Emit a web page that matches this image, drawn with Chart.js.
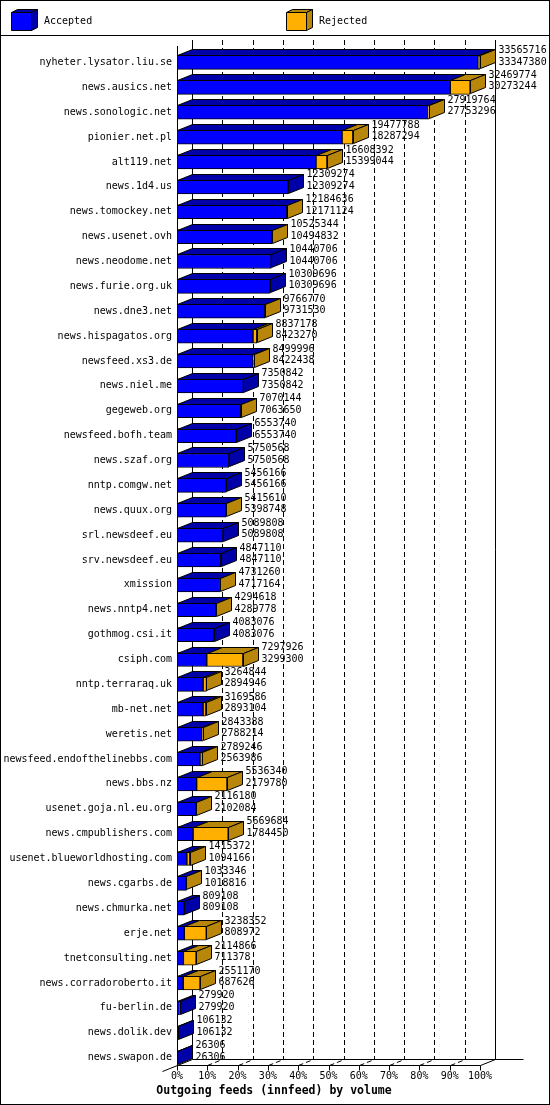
<!DOCTYPE html>
<html>
<head>
<meta charset="utf-8">
<script src="https://cdn.jsdelivr.net/npm/chart.js@4.4.1/dist/chart.umd.min.js"></script>
<style>
  html, body { margin: 0; padding: 0; background: #fff; }
  #wrap { width: 550px; height: 1105px; }
</style>
</head>
<body>
<div id="wrap"><canvas id="feeds" width="550" height="1105"></canvas></div>
<script>
// Outgoing feeds (innfeed) by volume

const hosts = [
  'nyheter.lysator.liu.se', 'news.ausics.net', 'news.sonologic.net', 'pionier.net.pl',
  'alt119.net', 'news.1d4.us', 'news.tomockey.net', 'news.usenet.ovh',
  'news.neodome.net', 'news.furie.org.uk', 'news.dne3.net', 'news.hispagatos.org',
  'newsfeed.xs3.de', 'news.niel.me', 'gegeweb.org', 'newsfeed.bofh.team',
  'news.szaf.org', 'nntp.comgw.net', 'news.quux.org', 'srl.newsdeef.eu',
  'srv.newsdeef.eu', 'xmission', 'news.nntp4.net', 'gothmog.csi.it',
  'csiph.com', 'nntp.terraraq.uk', 'mb-net.net', 'weretis.net',
  'newsfeed.endofthelinebbs.com', 'news.bbs.nz', 'usenet.goja.nl.eu.org', 'news.cmpublishers.com',
  'usenet.blueworldhosting.com', 'news.cgarbs.de', 'news.chmurka.net', 'erje.net',
  'tnetconsulting.net', 'news.corradoroberto.it', 'fu-berlin.de', 'news.dolik.dev',
  'news.swapon.de'
];

// offered volume (top number)
const totalVolume = [
  33565716, 32469774, 27919764, 19477788,
  16608392, 12309274, 12184636, 10525344,
  10440706, 10309696, 9766770, 8837178,
  8499996, 7350842, 7070144, 6553740,
  5750568, 5456166, 5415610, 5089808,
  4847110, 4731260, 4294618, 4083076,
  7297926, 3264844, 3169586, 2843388,
  2789246, 5536340, 2116180, 5669684,
  1415372, 1033346, 809108, 3238352,
  2114866, 2551170, 279920, 106132,
  26306
];

// accepted volume (bottom number)
const acceptedVolume = [
  33347380, 30273244, 27753296, 18287294,
  15399044, 12309274, 12171124, 10494832,
  10440706, 10309696, 9731530, 8423270,
  8422438, 7350842, 7063650, 6553740,
  5750568, 5456166, 5398748, 5089808,
  4847110, 4717164, 4289778, 4083076,
  3299300, 2894946, 2893104, 2788214,
  2563986, 2179780, 2102084, 1784450,
  1094166, 1018816, 809108, 808972,
  711378, 687626, 279920, 106132,
  26306
];

const seriesNames = ['Accepted', 'Rejected'];
const tickLabels = ['0%', '10%', '20%', '30%', '40%', '50%', '60%', '70%', '80%', '90%', '100%'];
const chartTitle = 'Outgoing feeds (innfeed) by volume';

const rejectedVolume = totalVolume.map((t, i) => t - acceptedVolume[i]);
const maxVolume = Math.max(...totalVolume);

const FONT = '"DejaVu Sans Mono", "Liberation Mono", monospace';
const DX = 15;      // depth offset, right
const DY = 6;       // depth offset, up
const FLOOR_GAP = 5;

const colors = {
  blue: '#0000ff',
  blueDark: '#0000a8',
  orange: '#ffb000',
  orangeDark: '#b8860b'
};

Chart.defaults.color = '#000';
Chart.defaults.font.family = FONT;
Chart.defaults.font.size = 10;

function poly(ctx, pts, fill) {
  ctx.beginPath();
  ctx.moveTo(pts[0][0], pts[0][1]);
  for (let i = 1; i < pts.length; i++) ctx.lineTo(pts[i][0], pts[i][1]);
  ctx.closePath();
  ctx.fillStyle = fill;
  ctx.fill();
  ctx.stroke();
}

// back wall, dashed grid and floor, drawn behind the bars
const backGrid = {
  id: 'backGrid',
  beforeDatasetsDraw(chart) {
    const { ctx, chartArea, scales: { x } } = chart;
    const yFront = Math.round(chartArea.bottom - FLOOR_GAP) + 0.5;
    const yBack = yFront - DY;
    const top = chartArea.top - 10;
    const x0 = Math.round(x.getPixelForValue(0)) + 0.5;
    const x1 = Math.round(x.getPixelForValue(maxVolume)) + 0.5;

    ctx.save();
    ctx.strokeStyle = '#000';
    ctx.lineWidth = 1;
    x.ticks.forEach((t, i) => {
      const xf = Math.round(x.getPixelForValue(t.value)) + 0.5;
      const xb = xf + DX;
      const solid = i === 0 || i === x.ticks.length - 1;
      ctx.setLineDash(solid ? [] : [5, 3]);
      ctx.beginPath();
      ctx.moveTo(xb, top);
      ctx.lineTo(xb, yBack);
      if (!solid) {
        ctx.moveTo(xf, yFront);
        ctx.lineTo(xb, yBack);
      }
      ctx.stroke();
      ctx.setLineDash([]);
      ctx.beginPath();
      ctx.moveTo(xf, yFront);
      ctx.lineTo(xf, yFront + 5);
      ctx.stroke();
    });

    ctx.beginPath();
    ctx.moveTo(x0 - DX, yFront + DY);
    ctx.lineTo(x0 + DX, yBack);
    ctx.moveTo(x0, yFront);
    ctx.lineTo(x1, yFront);
    ctx.lineTo(x1 + DX, yBack);
    ctx.moveTo(x0 + DX, yBack);
    ctx.lineTo(x1 + DX + 28, yBack);
    ctx.moveTo(x0, chartArea.top - 4);
    ctx.lineTo(x0, yFront);
    ctx.stroke();
    ctx.restore();
  }
};

// top and side faces of every bar, plus the two value labels
const bars3d = {
  id: 'bars3d',
  afterDatasetsDraw(chart) {
    const { ctx } = chart;
    const acc = chart.getDatasetMeta(0).data;
    const rej = chart.getDatasetMeta(1).data;
    ctx.save();
    ctx.strokeStyle = '#000';
    ctx.lineWidth = 1;
    hosts.forEach((_, i) => {
      const a = acc[i].getProps(['x', 'y', 'base', 'height'], true);
      const r = rej[i].getProps(['x'], true);
      const left = Math.round(a.base) + 0.5;
      const mid = Math.round(a.x) + 0.5;
      const right = Math.round(r.x) + 0.5;
      const yT = Math.round(a.y - a.height / 2) + 0.5;
      const yB = Math.round(a.y + a.height / 2) - 0.5;
      const hasRej = rejectedVolume[i] > 0;

      poly(ctx, [[left, yT], [left + DX, yT - DY], [mid + DX, yT - DY], [mid, yT]], colors.blueDark);
      if (hasRej && right > mid) {
        poly(ctx, [[mid, yT], [mid + DX, yT - DY], [right + DX, yT - DY], [right, yT]], colors.orangeDark);
      }
      poly(ctx, [[right, yT], [right + DX, yT - DY], [right + DX, yB - DY], [right, yB]],
        hasRej ? colors.orangeDark : colors.blueDark);

      ctx.fillStyle = '#000';
      ctx.font = '10px ' + FONT;
      ctx.textAlign = 'left';
      ctx.textBaseline = 'middle';
      ctx.fillText(String(totalVolume[i]), right + DX + 3, a.y - 12);
      ctx.fillText(String(acceptedVolume[i]), right + DX + 3, a.y - 0.5);
    });
    ctx.restore();
  }
};

// legend strip, title and outer frame
const frame = {
  id: 'frame',
  afterDraw(chart) {
    const { ctx, width, height } = chart;
    ctx.save();
    ctx.strokeStyle = '#000';
    ctx.lineWidth = 1;
    ctx.strokeRect(0.5, 0.5, width - 1, height - 1);
    ctx.beginPath();
    ctx.moveTo(0, 35.5);
    ctx.lineTo(width, 35.5);
    ctx.stroke();

    const items = [
      { x: 11, text: 44, front: colors.blue, dark: colors.blueDark },
      { x: 286, text: 319, front: colors.orange, dark: colors.orangeDark }
    ];
    items.forEach((it, i) => {
      const l = it.x + 0.5, r = it.x + 20.5, t = 12.5, b = 30.5;
      poly(ctx, [[l, t], [l + 6, t - 3], [r + 6, t - 3], [r, t]], it.dark);
      poly(ctx, [[r, t], [r + 6, t - 3], [r + 6, b - 3], [r, b]], it.dark);
      poly(ctx, [[l, t], [r, t], [r, b], [l, b]], it.front);
      ctx.fillStyle = '#000';
      ctx.font = '10px ' + FONT;
      ctx.textAlign = 'left';
      ctx.textBaseline = 'middle';
      ctx.fillText(seriesNames[i], it.text, 21);
    });

    ctx.font = 'bold 11.5px ' + FONT;
    ctx.textAlign = 'center';
    ctx.fillText(chartTitle, 274, 1091);
    ctx.restore();
  }
};

new Chart(document.getElementById('feeds'), {
  type: 'bar',
  data: {
    labels: hosts,
    datasets: [
      {
        label: seriesNames[0],
        data: acceptedVolume,
        backgroundColor: colors.blue,
        borderColor: '#000',
        borderWidth: 1,
        borderSkipped: false,
        barThickness: 14
      },
      {
        label: seriesNames[1],
        data: rejectedVolume,
        backgroundColor: colors.orange,
        borderColor: '#000',
        borderWidth: 1,
        borderSkipped: false,
        barThickness: 14
      }
    ]
  },
  options: {
    indexAxis: 'y',
    responsive: false,
    animation: false,
    layout: { padding: { top: 50, right: 70, bottom: 21, left: 0 } },
    plugins: {
      legend: { display: false },
      tooltip: { enabled: false },
      title: { display: false }
    },
    scales: {
      x: {
        stacked: true,
        min: 0,
        max: maxVolume,
        grid: { display: false, drawTicks: false },
        border: { display: false },
        afterBuildTicks(scale) {
          scale.ticks = tickLabels.map((_, i) => ({ value: maxVolume * i / 10 }));
        },
        afterFit(scale) { scale.height = 14; },
        ticks: {
          padding: 0,
          maxRotation: 0,
          autoSkip: false,
          font: { family: FONT, size: 10 },
          callback: (value, index) => tickLabels[index]
        }
      },
      y: {
        stacked: true,
        grid: { display: false, drawTicks: false },
        border: { display: false },
        afterFit(scale) { scale.width = 177; },
        ticks: {
          padding: 5,
          autoSkip: false,
          font: { family: FONT, size: 10 }
        }
      }
    }
  },
  plugins: [backGrid, bars3d, frame]
});
</script>
</body>
</html>
